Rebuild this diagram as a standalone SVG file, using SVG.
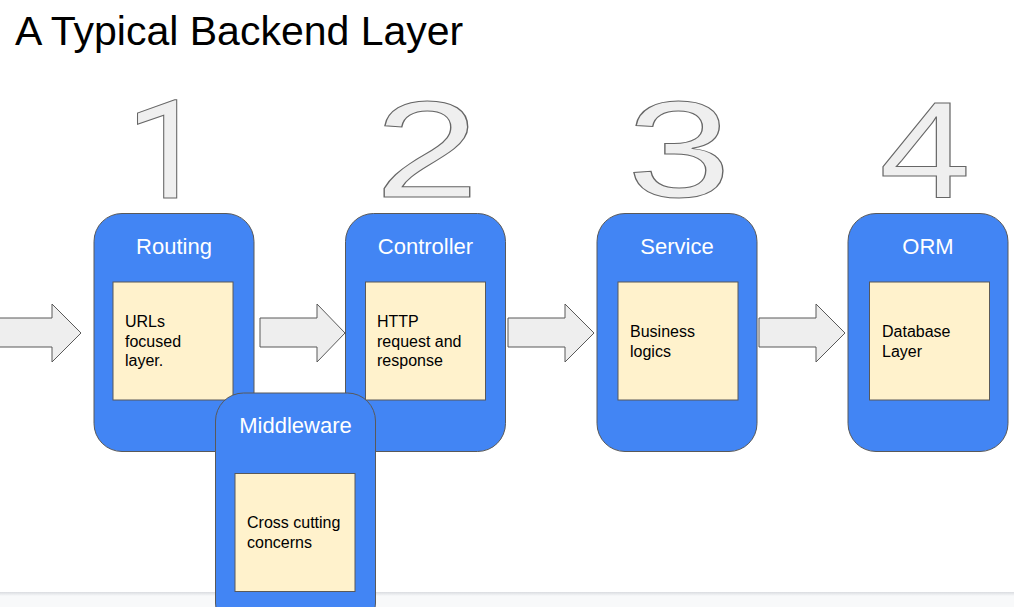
<svg xmlns="http://www.w3.org/2000/svg" width="1014" height="607" viewBox="0 0 1014 607">
<style>
text{font-family:"Liberation Sans",Arial,sans-serif}
.title{font-size:41px;fill:#000}
.num{font-size:137px;fill:#efefef;stroke:#666;stroke-width:1;text-anchor:middle}
.one{font-family:Roboto,"Liberation Sans",sans-serif}
.card{fill:#4285f4;stroke:#595959;stroke-width:1}
.head{font-size:22px;fill:#fff;text-anchor:middle}
.inner{fill:#fff2cc;stroke:#595959;stroke-width:1}
.body{font-size:16px;fill:#000}
.arrow{fill:#eeeeee;stroke:#595959;stroke-width:1}
</style>
<defs>
<linearGradient id="sh" x1="0" y1="0" x2="0" y2="1">
<stop offset="0" stop-color="#dadce0"/>
<stop offset="1" stop-color="#f8f9fa"/>
</linearGradient>
</defs>
<rect x="0" y="0" width="1014" height="607" fill="#fff"/>
<rect x="0" y="592" width="1014" height="15" fill="#f8f9fa"/>
<rect x="0" y="592" width="1014" height="4" fill="url(#sh)"/>
<text class="title" x="15" y="45">A Typical Backend Layer</text>
<g id="numbers">
<text class="num one" transform="translate(166,197.5) scale(1.05,1)" x="0" y="0">1</text>
<text class="num" transform="translate(427,197) scale(1.37,1)" x="0" y="0">2</text>
<text class="num" transform="translate(679,197) scale(1.37,1)" x="0" y="0">3</text>
<text class="num" transform="translate(925,197) scale(1.2,1)" x="0" y="0">4</text>
</g>
<g id="connectors">
<path class="arrow" d="M-2,318 H52 V304 L81,333 L52,362 V347 H-2 Z"/>
<path class="arrow" d="M260,318 H317 V304 L345,333 L317,362 V347 H260 Z"/>
<path class="arrow" d="M508,318 H565 V304 L594,333 L565,362 V347 H508 Z"/>
<path class="arrow" d="M759,318 H816 V304 L845,333 L816,362 V347 H759 Z"/>
</g>
<g id="routing">
<rect class="card" x="94" y="213.5" width="160" height="238" rx="28"/>
<text class="head" x="174" y="254">Routing</text>
<rect class="inner" x="113" y="282" width="120" height="118"/>
<text class="body" x="125" y="327">URLs</text>
<text class="body" x="125" y="346.5">focused</text>
<text class="body" x="125" y="366">layer.</text>
</g>
<g id="controller">
<rect class="card" x="345.5" y="213.5" width="160" height="238" rx="28"/>
<text class="head" x="425.5" y="254">Controller</text>
<rect class="inner" x="365.5" y="282" width="120" height="118"/>
<text class="body" x="377" y="327">HTTP</text>
<text class="body" x="377" y="346.5">request and</text>
<text class="body" x="377" y="366">response</text>
</g>
<g id="service">
<rect class="card" x="597" y="213.5" width="160" height="238" rx="28"/>
<text class="head" x="677" y="254">Service</text>
<rect class="inner" x="618" y="282" width="120" height="118"/>
<text class="body" x="630" y="337">Business</text>
<text class="body" x="630" y="356.5">logics</text>
</g>
<g id="orm">
<rect class="card" x="848" y="213.5" width="160" height="238" rx="28"/>
<text class="head" x="928" y="254">ORM</text>
<rect class="inner" x="869.5" y="282" width="120" height="118"/>
<text class="body" x="882" y="337">Database</text>
<text class="body" x="882" y="356.5">Layer</text>
</g>
<g id="middleware">
<rect class="card" x="215.5" y="393" width="160" height="238" rx="28"/>
<text class="head" x="295.5" y="433">Middleware</text>
<rect class="inner" x="235" y="473.5" width="120" height="118"/>
<text class="body" x="247" y="528">Cross cutting</text>
<text class="body" x="247" y="547.5">concerns</text>
</g>
</svg>
